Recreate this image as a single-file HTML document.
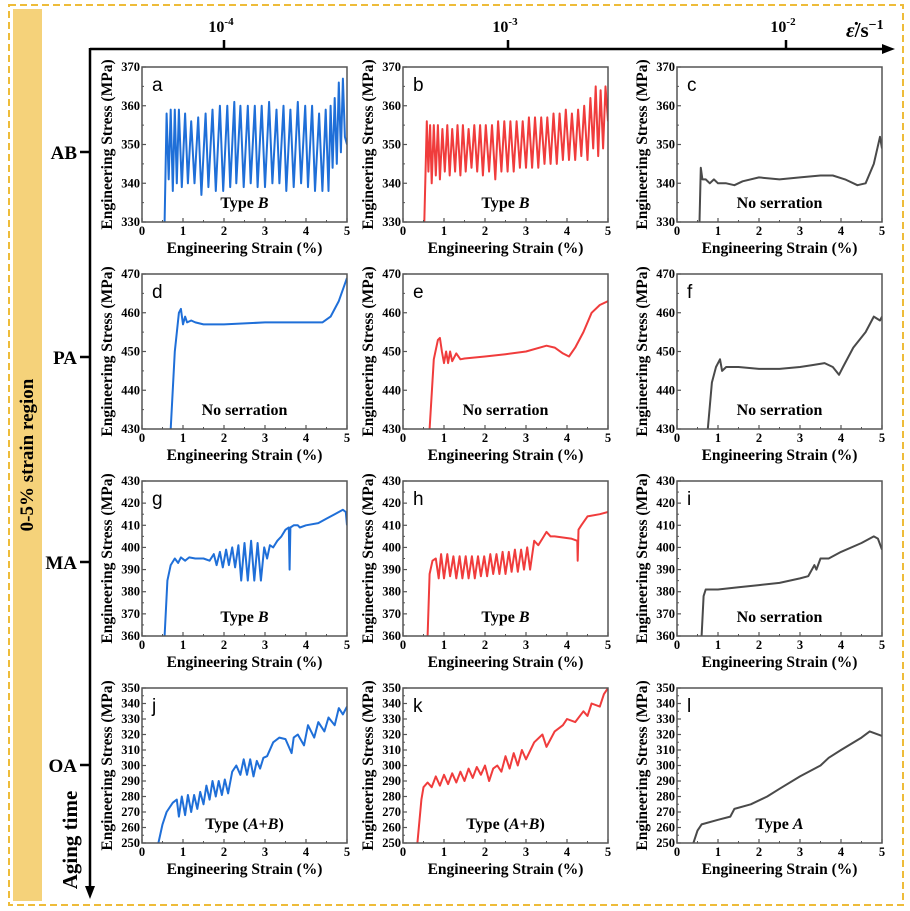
<!DOCTYPE html>
<html><head><meta charset="utf-8"><style>
html,body{margin:0;padding:0;background:#fff;}
svg{display:block;font-family:"Liberation Serif",serif;}
</style></head><body>
<svg id="fig" width="910" height="911" viewBox="0 0 910 911" xmlns="http://www.w3.org/2000/svg">
<rect x="9" y="5" width="894" height="900" fill="none" stroke="#eebc3a" stroke-width="2" stroke-dasharray="7,4"/>
<rect x="13" y="9" width="29" height="892" fill="#f5d27a"/>
<text transform="translate(33,455) rotate(-90)" text-anchor="middle" font-size="19" font-weight="bold">0-5% strain  region</text>
<line x1="90" y1="49" x2="887" y2="49" stroke="#000" stroke-width="2.5"/>
<polygon points="895,49 882,44 882,54" fill="#000"/>
<line x1="90" y1="48" x2="90" y2="890" stroke="#000" stroke-width="2.5"/>
<polygon points="90,899 85,886 95,886" fill="#000"/>
<text transform="translate(77,840) rotate(-90)" text-anchor="middle" font-size="21" font-weight="bold">Aging time</text>
<text x="846" y="37" font-size="21" font-weight="bold" font-style="italic">ε̇<tspan font-style="normal">/s</tspan><tspan dy="-8" font-size="14" font-style="normal">−1</tspan></text>
<g id="decor"></g>
<g id="panels"></g>
</svg>
<script>
// strain-rate tick labels and aging labels
const rateLabels = ["10","10","10"];
const rateExps = ["-4","-3","-2"];
const rateTickX = [224, 508, 786];
const agingLabels = ["AB","PA","MA","OA"];
const agingTickY = [152, 357, 562, 765];

// panel a (AB, 1e-4)
const aX = [0.55,0.6,0.65,0.7,0.75,0.8,0.85,0.9,0.97,1.05,1.12,1.2,1.28,1.37,1.45,1.55,1.62,1.72,1.8,1.9,1.98,2.08,2.15,2.25,2.3,2.4,2.48,2.58,2.65,2.75,2.82,2.92,3.0,3.1,3.18,3.28,3.35,3.45,3.52,3.62,3.7,3.8,3.88,3.98,4.05,4.15,4.22,4.32,4.4,4.48,4.55,4.6,4.65,4.7,4.75,4.8,4.85,4.9,4.95,5.0];
const aY = [330,358,341,359,338,359,340,359,339,358,340,356,340,357,337,358,339,359,338,360,338,360,339,361,340,360,339,360,340,360,339,360,339,361,340,359,340,360,338,359,339,361,340,360,339,360,338,358,338,359,338,360,344,362,345,366,348,367,352,350];
// panel b (AB, 1e-3)
const bX = [0.52,0.58,0.62,0.66,0.7,0.75,0.8,0.85,0.9,0.96,1.02,1.08,1.14,1.2,1.27,1.33,1.4,1.46,1.53,1.6,1.67,1.74,1.81,1.88,1.95,2.02,2.1,2.17,2.25,2.32,2.4,2.47,2.55,2.62,2.7,2.77,2.85,2.92,3.0,3.07,3.15,3.22,3.3,3.37,3.45,3.52,3.6,3.67,3.75,3.82,3.9,3.97,4.05,4.12,4.2,4.27,4.35,4.42,4.5,4.57,4.64,4.7,4.76,4.82,4.88,4.94,5.0];
const bY = [330,356,343,355,340,355,342,355,341,354,343,355,342,354,343,355,342,355,343,354,344,355,343,355,342,355,343,355,341,356,343,356,343,356,343,356,344,356,344,357,344,357,344,357,345,357,345,358,345,358,346,359,346,358,346,359,347,360,346,362,349,365,347,364,349,365,356];
// panel c (AB, 1e-2)
const cX = [0.55,0.58,0.62,0.7,0.8,0.9,1.0,1.2,1.4,1.6,2.0,2.5,3.0,3.5,3.8,4.1,4.4,4.6,4.8,4.95,5.0];
const cY = [330,344,341,341,340,341,340,340,339.5,340.5,341.5,341,341.5,342,342,341,339.5,340,345,352,349];
// panel d (PA, 1e-4)
const dX = [0.7,0.8,0.9,0.95,1.0,1.05,1.1,1.2,1.3,1.5,2.0,3.0,4.0,4.4,4.6,4.8,5.0];
const dY = [430,450,460,461,457,459,457.5,458,457.5,457,457,457.5,457.5,457.5,459,463,469];
// panel e (PA, 1e-3)
const eX = [0.65,0.75,0.85,0.9,0.95,1.0,1.05,1.1,1.15,1.2,1.3,1.4,1.5,2.0,2.5,3.0,3.5,3.7,3.9,4.05,4.2,4.4,4.6,4.8,5.0];
const eY = [430,448,453,453.5,450,447,450,447,450,447.5,449.5,448,448.2,448.7,449.3,450,451.5,451,449.5,448.7,451,455,460,462,463];
// panel f (PA, 1e-2)
const fX = [0.75,0.85,0.95,1.05,1.1,1.2,1.5,2.0,2.5,3.0,3.3,3.6,3.8,3.95,4.05,4.3,4.6,4.8,4.95,5.0];
const fY = [430,442,446,448,445,446,446,445.5,445.5,446,446.5,447,446,444,446,451,455,459,458,459];
// panel g (MA, 1e-4)
const gX = [0.55,0.62,0.7,0.8,0.88,0.95,1.05,1.15,1.3,1.5,1.65,1.75,1.82,1.9,1.97,2.05,2.12,2.2,2.27,2.35,2.42,2.5,2.58,2.66,2.74,2.82,2.9,2.98,3.05,3.12,3.2,3.3,3.4,3.5,3.58,3.6,3.62,3.7,3.8,3.85,4.0,4.3,4.5,4.7,4.9,4.97,5.0];
const gY = [360,385,392,395,393,395.5,394,395.5,395,395,394,397,392,398,391,399,392,400,391,401,385,402,385,403,385,402,385,400,395,401,400,403,405,408,409,390,409,410,410,409,410,411,413,415,417,416,410];
// panel h (MA, 1e-3)
const hX = [0.6,0.65,0.72,0.8,0.87,0.93,1.0,1.08,1.15,1.23,1.3,1.38,1.45,1.53,1.6,1.68,1.75,1.83,1.9,1.98,2.05,2.13,2.2,2.28,2.35,2.43,2.5,2.58,2.65,2.73,2.8,2.88,2.95,3.03,3.1,3.2,3.3,3.4,3.5,3.6,3.7,3.9,4.1,4.25,4.26,4.28,4.35,4.5,4.8,5.0];
const hY = [360,388,394,395,386,397,386,397,387,396,386,396,386,396,386,396,386,396,387,396,387,397,388,397,388,398,388,398,389,399,389,399,390,400,390,403,401,404,407,405,405,404.5,404,403,394,408,410,414,415,416];
// panel i (MA, 1e-2)
const iX = [0.6,0.65,0.7,1.0,1.5,2.0,2.5,3.0,3.2,3.35,3.4,3.5,3.7,4.0,4.5,4.8,4.9,5.0];
const iY = [360,378,381,381,382,383,384,386,387,392,390,395,395,398,402,405,404,399];
// panel j (OA, 1e-4)
const jX = [0.4,0.5,0.6,0.75,0.85,0.9,0.97,1.05,1.12,1.2,1.27,1.35,1.42,1.5,1.57,1.65,1.72,1.8,1.87,1.95,2.02,2.1,2.2,2.3,2.4,2.48,2.56,2.64,2.72,2.8,2.88,2.96,3.05,3.2,3.35,3.5,3.65,3.7,3.8,3.95,4.05,4.2,4.3,4.45,4.55,4.7,4.8,4.9,5.0];
const jY = [250,262,270,276,278,267,280,268,281,270,281,272,283,275,287,278,290,280,290,281,291,282,296,300,294,304,294,304,293,303,298,305,306,315,318,317,308,318,320,313,326,318,328,322,331,326,337,333,338];
// panel k (OA, 1e-3)
const kX = [0.35,0.45,0.5,0.6,0.7,0.8,0.9,1.0,1.1,1.2,1.3,1.4,1.5,1.6,1.7,1.8,1.9,2.0,2.1,2.2,2.3,2.4,2.5,2.6,2.7,2.8,2.9,3.0,3.2,3.4,3.5,3.7,3.9,4.0,4.2,4.4,4.5,4.6,4.8,4.9,5.0];
const kY = [250,278,286,289,286,293,287,294,288,295,289,296,290,298,292,299,294,300,290,298,300,296,306,298,308,300,310,304,315,320,312,322,326,330,328,335,332,340,338,346,350];
// panel l (OA, 1e-2)
const lX = [0.4,0.5,0.6,1.0,1.3,1.4,1.8,2.2,2.5,3.0,3.5,3.7,4.0,4.5,4.7,5.0];
const lY = [250,258,262,265,267,272,275,280,285,293,300,305,310,318,322,319];

const panelLetters = ["a","b","c","d","e","f","g","h","i","j","k","l"];
const panelNotes = ["Type |B","Type |B","No serration","No serration","No serration","No serration","Type |B","Type |B","No serration","Type (|A|+|B|)","Type (|A|+|B|)","Type |A"];
const rowYTicks = [[330,340,350,360,370],[430,440,450,460,470],[360,370,380,390,400,410,420,430],[250,260,270,280,290,300,310,320,330,340,350]];
const xTicks = [0,1,2,3,4,5];
const seriesX = [aX,bX,cX,dX,eX,fX,gX,hX,iX,jX,kX,lX];
const seriesY = [aY,bY,cY,dY,eY,fY,gY,hY,iY,jY,kY,lY];

const NS="http://www.w3.org/2000/svg";
function mk(tag, attrs, parent){const e=document.createElementNS(NS,tag);for(const k in attrs)e.setAttribute(k,attrs[k]);parent.appendChild(e);return e;}
const decor=document.getElementById('decor');
rateLabels.forEach((t,i)=>{
  const tk=mk('line',{x1:rateTickX[i],y1:40,x2:rateTickX[i],y2:49,stroke:'#000','stroke-width':2.5},decor);
  
  
  const tx=mk('text',{x:rateTickX[i]-3,y:32,'text-anchor':'middle','font-size':16,'font-weight':'bold'},decor);
  
  
  tx.textContent=t;
  const sp=mk('tspan',{dy:-7,'font-size':11},tx);sp.textContent=rateExps[i];
});
agingLabels.forEach((t,i)=>{
  const tk=mk('line',{x1:80,y1:agingTickY[i],x2:90,y2:agingTickY[i],stroke:'#000','stroke-width':2.5},decor);
  
  
  const tx=mk('text',{x:77,y:agingTickY[i]+7,'text-anchor':'end','font-size':19,'font-weight':'bold'},decor);
  
  
  tx.textContent=t;
});

const colL=[142,403,677], colW=205;
const rowT=[67,274,481,688], rowH=155;
const colors=['#1f6fd8','#f03c3c','#4a4a4a'];
const panels=document.getElementById('panels');
for(let r=0;r<4;r++)for(let c=0;c<3;c++){
  const idx=r*3+c;
  const L=colL[c],T=rowT[r],W=colW,H=rowH;
  const yt=rowYTicks[r];const y0=yt[0],y1=yt[yt.length-1];
  const sx=v=>L+v/5*W, sy=v=>T+H-(v-y0)/(y1-y0)*H;
  const g=mk('g',{},panels);
  
  
  const cp=mk('clipPath',{id:'cp'+idx},g);mk('rect',{x:L,y:T-3,width:W,height:H+3},cp);
  const pts=seriesX[idx].map((x,i)=>sx(x).toFixed(1)+','+sy(seriesY[idx][i]).toFixed(1)).join(' ');
  const pl=mk('polyline',{points:pts,fill:'none',stroke:colors[c],'stroke-width':2,'stroke-linejoin':'round','clip-path':'url(#cp'+idx+')'},g);
  
  
  const fr=mk('rect',{x:L,y:T,width:W,height:H,fill:'none',stroke:'#555','stroke-width':1.5},g);
  
  
  xTicks.forEach(v=>{
    mk('line',{x1:sx(v),y1:T+H,x2:sx(v),y2:T+H-4,stroke:'#555','stroke-width':1.2},g);
    if(v<5)mk('line',{x1:sx(v+0.5),y1:T+H,x2:sx(v+0.5),y2:T+H-2,stroke:'#555','stroke-width':1},g);
    const t=mk('text',{x:sx(v),y:T+H+13,'text-anchor':'middle','font-size':12.5,'font-weight':'bold'},g);
    
    
    t.textContent=v;
  });
  yt.forEach((v,i)=>{
    mk('line',{x1:L,y1:sy(v),x2:L+4,y2:sy(v),stroke:'#555','stroke-width':1.2},g);
    if(i<yt.length-1)mk('line',{x1:L,y1:sy(v+(yt[1]-yt[0])/2),x2:L+2,y2:sy(v+(yt[1]-yt[0])/2),stroke:'#555','stroke-width':1},g);
    const t=mk('text',{x:L-2,y:sy(v)+4,'text-anchor':'end','font-size':12.5,'font-weight':'bold'},g);
    
    
    t.textContent=v;
  });
  const xt=mk('text',{x:L+W/2,y:T+H+31,'text-anchor':'middle','font-size':15.5,'font-weight':'bold'},g);
  
  
  xt.textContent='Engineering Strain (%)';
  const yx=L-30, ycx=T+H/2;
  const ytt=mk('text',{transform:`translate(${yx},${ycx}) rotate(-90)`,'text-anchor':'middle','font-size':15.5,'font-weight':'bold'},g);
  
  
  ytt.textContent='Engineering Stress (MPa)';
  const lt=mk('text',{x:L+10,y:T+24,'font-size':19,'font-family':'Liberation Sans, sans-serif'},g);
  
  
  lt.textContent=panelLetters[idx];
  const nt=mk('text',{x:L+W/2,y:T+H-14,'text-anchor':'middle','font-size':16,'font-weight':'bold'},g);
  
  
  panelNotes[idx].split('|').forEach((part,k)=>{
    const sp=mk('tspan',{},nt);
    if(k%2===1)sp.setAttribute('font-style','italic');
    sp.textContent=part;
  });
}
</script>
</body></html>
